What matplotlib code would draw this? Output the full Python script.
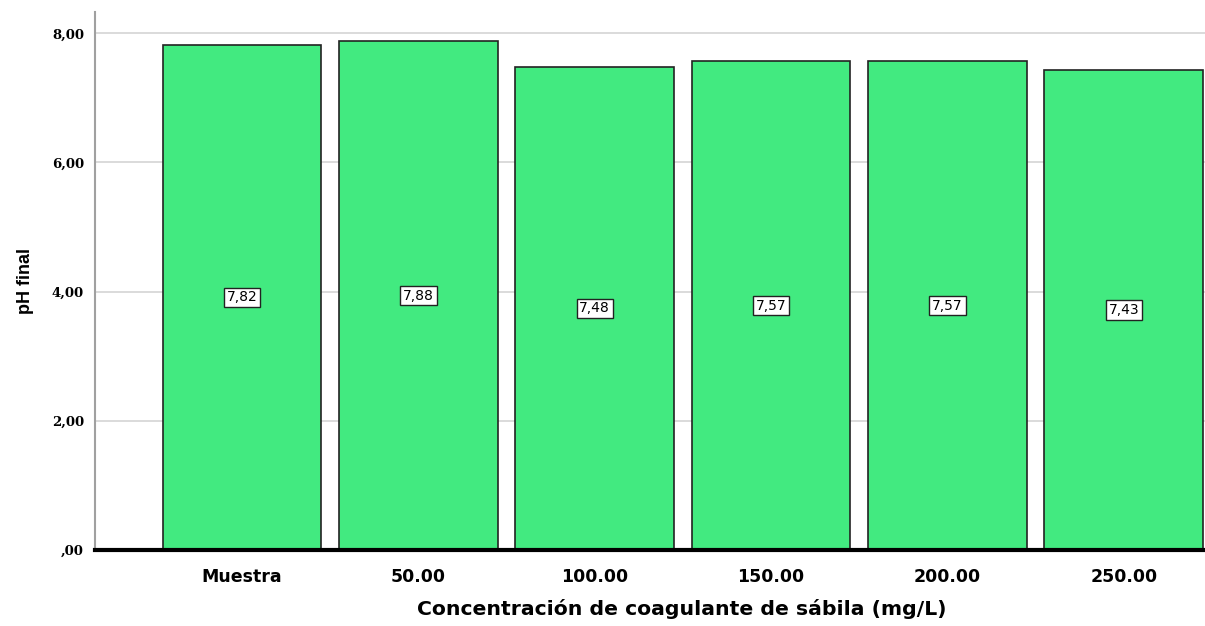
import matplotlib.pyplot as plt

categorias = ["Muestra", "50.00", "100.00", "150.00", "200.00", "250.00"]
ph_final = [7.82, 7.88, 7.48, 7.57, 7.57, 7.43]
etiquetas = ["7,82", "7,88", "7,48", "7,57", "7,57", "7,43"]
yticks = [0, 2, 4, 6, 8]
yticklabels = [",00", "2,00", "4,00", "6,00", "8,00"]

fig = plt.figure(figsize=(12.05, 6.26), dpi=100)
ax = fig.add_axes([95/1205, 76/626, 1 - 95/1205, (550 - 12)/626])

x = range(len(categorias))
ax.bar(x, ph_final, width=0.9, color="#42ea80", edgecolor="#222222", linewidth=1.2, zorder=3)

# etiquetas de valor en el centro de cada barra
for i, v in enumerate(ph_final):
    ax.text(i, v/2, etiquetas[i], ha="center", va="center", fontsize=10,
            family="DejaVu Sans", zorder=4,
            bbox=dict(boxstyle="square,pad=0.2", fc="white", ec="#222222", lw=1))

ax.set_xlim(-0.833, 5.46)
ax.set_ylim(0, 8.33)
ax.set_yticks(yticks)
ax.set_yticklabels(yticklabels, family="DejaVu Serif", fontweight="bold", fontsize=9.5)
ax.set_xticks(list(x))
ax.set_xticklabels(categorias, family="DejaVu Sans", fontweight="bold", fontsize=12.5)
ax.tick_params(axis="both", length=0)
ax.tick_params(axis="y", pad=8)
ax.tick_params(axis="x", pad=13)

ax.yaxis.grid(True, color="#d4d4d4", linewidth=1.2, zorder=0)
ax.set_axisbelow(True)

for s in ["top", "right"]:
    ax.spines[s].set_visible(False)
ax.spines["left"].set_color("#a0a0a0")
ax.spines["left"].set_linewidth(1.5)
ax.spines["bottom"].set_color("black")
ax.spines["bottom"].set_linewidth(3)
ax.spines["bottom"].set_zorder(5)

ax.set_xlabel("Concentración de coagulante de sábila (mg/L)", family="DejaVu Sans",
              fontweight="bold", fontsize=14.7)
ax.xaxis.set_label_coords(0.529, -0.092)
ax.set_ylabel("pH final", family="Liberation Sans", fontweight="bold", fontsize=13, labelpad=13)

fig.savefig("out.png", dpi=100)
